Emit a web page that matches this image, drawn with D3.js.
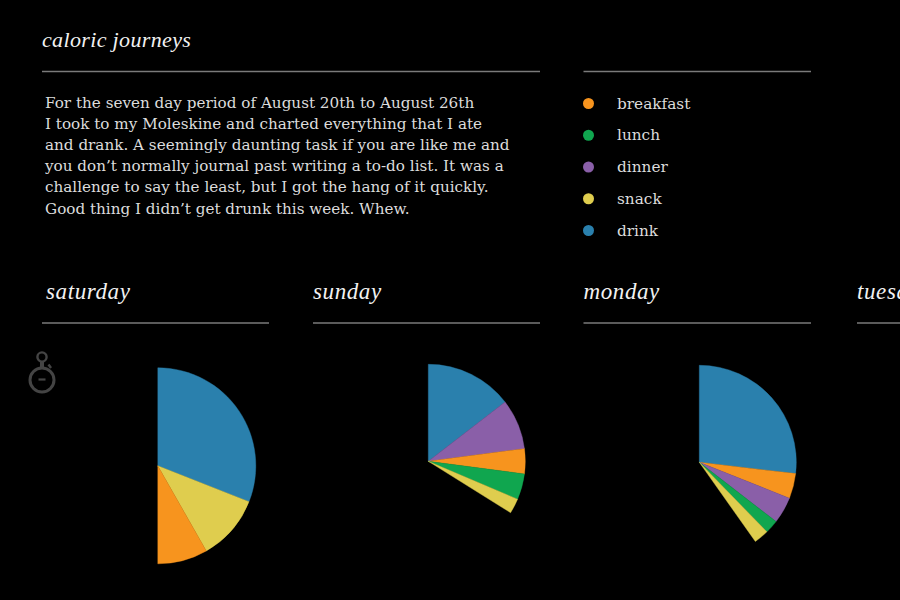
<!DOCTYPE html>
<html>
<head>
<meta charset="utf-8">
<script src="https://cdn.jsdelivr.net/npm/d3@7/dist/d3.min.js"></script>
<style>
  html, body { margin: 0; padding: 0; background: #000; overflow: hidden; }
  svg { display: block; }
</style>
</head>
<body>
<svg id="chart" width="900" height="600"></svg>
<script>
// Meals in legend order, with their colours.
const meals = ["breakfast", "lunch", "dinner", "snack", "drink"];
const mealColors = ["#f7941e", "#10a64f", "#8a5fa8", "#dfcd4e", "#2a80ad"];

// Day columns; tuesday runs off the right edge and has no wedge in view.
const days = ["saturday", "sunday", "monday", "tuesday"];

// Each day's meals in drawing order, clockwise from twelve o'clock.
const saturdayMeals = ["drink", "snack", "breakfast"];
const saturdayValues = [111.5, 38.8, 29.7];
const sundayMeals = ["drink", "dinner", "breakfast", "lunch", "snack"];
const sundayValues = [52.3, 30.2, 15, 15.5, 9];
const mondayMeals = ["drink", "breakfast", "dinner", "lunch", "snack"];
const mondayValues = [96.7, 15, 16, 8.1, 8.9];

const title = "caloric journeys";
const introLines = [
  "For the seven day period of August 20th to August 26th",
  "I took to my Moleskine and charted everything that I ate",
  "and drank. A seemingly daunting task if you are like me and",
  "you don\u2019t normally journal past writing a to-do list. It was a",
  "challenge to say the least, but I got the hang of it quickly.",
  "Good thing I didn\u2019t get drunk this week. Whew."
];

const svg = d3.select("#chart");
const color = d3.scaleOrdinal(meals, mealColors);

const italic = "'Liberation Serif', serif";
const body = "'DejaVu Serif', serif";

svg.append("rect").attr("width", 900).attr("height", 600).attr("fill", "#000");

function rule(x1, x2, y) {
  svg.append("line")
    .attr("x1", x1).attr("x2", x2).attr("y1", y).attr("y2", y)
    .attr("stroke", "#7a7a7a").attr("stroke-width", 1.4);
}

function heading(text, x, y, size, spacing) {
  svg.append("text")
    .attr("x", x).attr("y", y)
    .attr("fill", "#f2f2f2")
    .attr("font-family", italic).attr("font-style", "italic")
    .attr("font-size", size)
    .attr("letter-spacing", spacing)
    .text(text);
}

// Header block
heading(title, 42, 47, 22, 0.35);
rule(42, 540, 71.5);
rule(583.5, 811, 71.5);

svg.append("g").selectAll("text").data(introLines).join("text")
  .attr("x", 45)
  .attr("y", (d, i) => 108 + i * 21.1)
  .attr("fill", "#dcdcdc")
  .attr("font-family", body)
  .attr("font-size", 15.2)
  .text(d => d);

// Legend
const legendY = d3.scalePoint(meals, [103.5, 230.5]);
const legend = svg.append("g").selectAll("g").data(meals).join("g")
  .attr("transform", d => `translate(0,${legendY(d)})`);
legend.append("circle")
  .attr("cx", 588.5).attr("r", 5.5).attr("fill", d => color(d));
legend.append("text")
  .attr("x", 617).attr("y", 5)
  .attr("fill", "#dcdcdc")
  .attr("font-family", body).attr("font-size", 15.3)
  .text(d => d);

// Day columns: label and rule
const columnX = d3.scaleOrdinal(days, [42, 313, 583.5, 857]);
const columnEnd = d3.scaleOrdinal(days, [269, 540, 811, 900]);
days.forEach(day => {
  heading(day, columnX(day) + (day === "saturday" ? 4 : 0), 298.5, 23, 0.6);
  rule(columnX(day), columnEnd(day), 323);
});

// Stopwatch icon beside the first wedge
const watch = svg.append("g")
  .attr("transform", "translate(42,380)")
  .attr("fill", "none").attr("stroke", "#444").attr("stroke-width", 3);
watch.append("circle").attr("r", 12);
watch.append("circle").attr("cy", -23).attr("r", 4.6).attr("stroke-width", 2.4);
watch.append("line").attr("y1", -18.5).attr("y2", -12).attr("stroke-width", 4);
watch.append("line").attr("x1", 6.5).attr("y1", -15.5).attr("x2", 9).attr("y2", -12).attr("stroke-width", 2.4);
watch.append("line").attr("x1", -3.5).attr("x2", 3.5).attr("y1", -0.5).attr("y2", -0.5).attr("stroke-width", 2.2);

// Wedges: values are degrees of sweep, laid end to end from twelve o'clock
const sweep = d3.scaleLinear().domain([0, 360]).range([0, 2 * Math.PI]);
const arc = d3.arc().innerRadius(0);

const wedges = [
  { names: saturdayMeals, values: saturdayValues, cx: 157.8, cy: 465.8, r: 98 },
  { names: sundayMeals, values: sundayValues, cx: 428.3, cy: 461.3, r: 97 },
  { names: mondayMeals, values: mondayValues, cx: 699.3, cy: 462.3, r: 97 }
];

wedges.forEach(w => {
  const total = d3.sum(w.values);
  const pie = d3.pie().sort(null).value(d => d.value)
    .startAngle(0).endAngle(sweep(total));
  const rows = w.values.map((value, i) => ({ value, meal: w.names[i] }));
  svg.append("g")
    .attr("transform", `translate(${w.cx},${w.cy})`)
    .selectAll("path").data(pie(rows)).join("path")
    .attr("d", d => arc.outerRadius(w.r)(d))
    .attr("fill", d => color(d.data.meal))
    .attr("stroke", d => color(d.data.meal))
    .attr("stroke-width", 0.4);
});
</script>
</body>
</html>
